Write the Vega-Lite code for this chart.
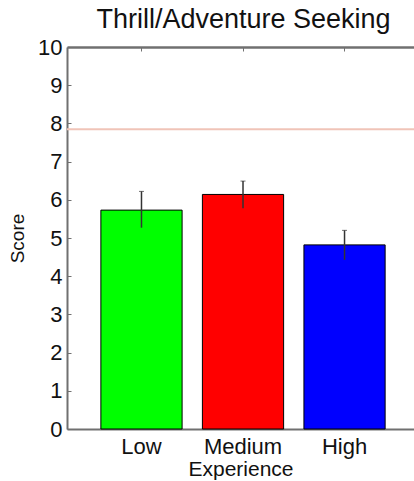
{
  "$schema": "https://vega.github.io/schema/vega-lite/v6.json",
  "autosize": {"type": "none"},
  "padding": {"left": 67, "top": 47, "right": 0, "bottom": 52},
  "width": 347,
  "height": 382,
  "background": "white",
  "config": {
    "view": {"stroke": null},
    "font": "Liberation Sans",
    "axis": {"grid": false, "domainColor": "#707070", "domainWidth": 2, "tickColor": "#707070", "labelColor": "#111", "titleColor": "#111", "labelFont": "Liberation Sans", "titleFont": "Liberation Sans", "titleFontWeight": "normal", "labelOverlap": false}
  },
  "title": {"text": "Thrill/Adventure Seeking", "fontSize": 27, "fontWeight": "normal", "color": "#111", "font": "Liberation Sans", "anchor": "middle", "offset": 2, "dx": 3},
  "datasets": {
    "bars": [
      {"experience": "Low", "score": 5.73, "lo": 5.27, "hi": 6.22},
      {"experience": "Medium", "score": 6.14, "lo": 5.78, "hi": 6.49},
      {"experience": "High", "score": 4.82, "lo": 4.43, "hi": 5.2}
    ],
    "ref": [{"value": 7.85}]
  },
  "layer": [
    {
      "data": {"name": "bars"},
      "mark": {"type": "bar", "stroke": "black", "strokeWidth": 1},
      "encoding": {
        "x": {"field": "experience", "type": "nominal", "sort": ["Low", "Medium", "High"],
              "scale": {"paddingInner": 0.2, "paddingOuter": 0.309, "align": 0.54},
              "axis": {"orient": "bottom", "title": "Experience", "labelAngle": 0, "labelFontSize": 22, "titleFontSize": 21, "ticks": false, "labelPadding": 7, "titlePadding": 1}},
        "y": {"field": "score", "type": "quantitative",
              "scale": {"domain": [0, 10], "nice": false},
              "axis": {"title": "Score", "titleFontSize": 19, "values": [0,1,2,3,4,5,6,7,8,9,10], "tickCount": 11, "labelFontSize": 22, "tickSize": -4, "labelPadding": 9, "titlePadding": 10, "labelOverlap": false}}, 
        "color": {"field": "experience", "type": "nominal",
                  "scale": {"domain": ["Low", "Medium", "High"], "range": ["#00ff00", "#ff0000", "#0000ff"]},
                  "legend": null}
      }
    },
    {
      "data": {"name": "ref"},
      "mark": {"type": "rule", "color": "#f0c4b8", "strokeWidth": 2},
      "encoding": {"y": {"field": "value", "type": "quantitative", "axis": {"title": "Score", "titleFontSize": 19, "values": [0,1,2,3,4,5,6,7,8,9,10], "tickCount": 11, "labelFontSize": 22, "tickSize": -4, "labelPadding": 9, "titlePadding": 10, "labelOverlap": false}}}
    },
    {
      "data": {"name": "bars"},
      "mark": {"type": "rule", "color": "#333", "strokeWidth": 1.5},
      "encoding": {
        "x": {"field": "experience", "type": "nominal", "sort": ["Low", "Medium", "High"],
              "axis": {"orient": "top", "title": null, "labels": false, "tickSize": -4, "domainWidth": 2.5}},
        "y": {"field": "lo", "type": "quantitative", "axis": {"title": "Score", "titleFontSize": 19, "values": [0,1,2,3,4,5,6,7,8,9,10], "tickCount": 11, "labelFontSize": 22, "tickSize": -4, "labelPadding": 9, "titlePadding": 10, "labelOverlap": false}},
        "y2": {"field": "hi"}
      }
    },
    {
      "data": {"name": "bars"},
      "mark": {"type": "tick", "color": "#333", "size": 5, "thickness": 1},
      "encoding": {
        "x": {"field": "experience", "type": "nominal", "sort": ["Low", "Medium", "High"], "axis": null},
        "y": {"field": "hi", "type": "quantitative", "axis": {"title": "Score", "titleFontSize": 19, "values": [0,1,2,3,4,5,6,7,8,9,10], "tickCount": 11, "labelFontSize": 22, "tickSize": -4, "labelPadding": 9, "titlePadding": 10, "labelOverlap": false}}
      }
    }
  ],
  "resolve": {"axis": {"x": "independent"}}
}
